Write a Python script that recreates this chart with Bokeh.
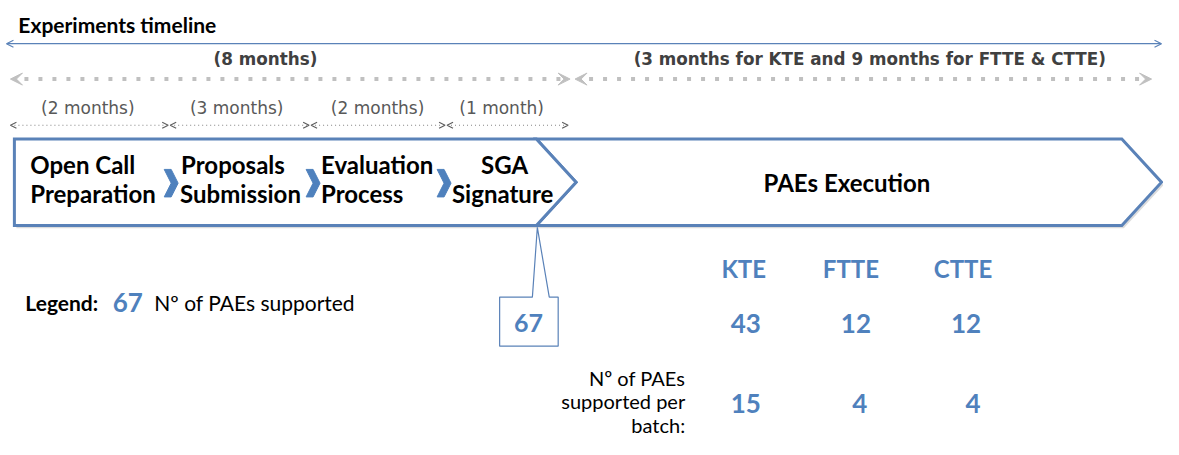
from bokeh.plotting import figure
from bokeh.models import Range1d, Arrow, VeeHead, OpenHead
from bokeh.core.properties import value
from bokeh.embed import file_html
from bokeh.resources import INLINE

# ---------------- data ----------------
title = "Experiments timeline"
phase_labels = ["(8 months)", "(3 months for KTE and 9 months for FTTE & CTTE)"]
duration_labels = ["(2 months)", "(3 months)", "(2 months)", "(1 month)"]
step_line1 = ["Open Call", "Proposals", "Evaluation", "SGA"]
step_line2 = ["Preparation", "Submission", "Process", "Signature"]
execution_label = "PAEs Execution"
total_supported = 67
teams = ["KTE", "FTTE", "CTTE"]
supported = [43, 12, 12]
per_batch = [15, 4, 4]
legend_text = "Nº of PAEs supported"
batch_label = ["Nº of PAEs", "supported per", "batch:"]

# ---------------- layout (positions / styles) ----------------
BLUE = "#4f81bd"
EDGE = "#5a82b8"
DARK = "#404040"
GRAY = "#595959"
LIGHT = "#c0c0c0"
F = "Lato"
ARIAL = "DejaVu Sans"

phase_bounds = [(10, 574), (579, 1160)]
phase_label_x = [267, 876]
dur_bounds = [(10, 169), (171, 311), (313, 448), (450, 572)]
dur_label_x = [88, 238, 380, 505]
step_x1 = [30, 182, 323, 508]
step_x2 = [30, 181, 323, 455]
step_align1 = ["left", "left", "left", "center"]
step_x_chev = [170, 313, 445]
team_x = [749, 857, 970]
val_x = [751, 862, 973]
batch_x = [751, 866, 980]

p = figure(width=1163, height=439, x_range=Range1d(0, 1172), y_range=Range1d(447, 0),
           output_backend="svg", toolbar_location=None, min_border=0,
           x_axis_type=None, y_axis_type=None)
p.grid.visible = False
p.outline_line_color = None
p.background_fill_color = "white"


def txt(x, y, s, size, color, bold=False, align="left", font=F):
    p.text(x=[x], y=[y], text=[s], text_font=value(font), text_font_size=size,
           text_color=color, text_font_style="bold" if bold else "normal",
           text_align=align, text_baseline="middle")


# title
txt(18, 24, title, "21px", "black", bold=True)

# top blue double arrow
p.add_layout(Arrow(x_start=6, y_start=44, x_end=1170, y_end=44, line_color=EDGE, line_width=1.2,
                   start=OpenHead(size=7, line_color=EDGE, line_width=1.2),
                   end=OpenHead(size=7, line_color=EDGE, line_width=1.2)))

# phase labels and dotted arrows
for (a, b), lx, lab in zip(phase_bounds, phase_label_x, phase_labels):
    txt(lx, 60, lab, "16.8px", DARK, bold=True, align="center", font=ARIAL)
    p.add_layout(Arrow(x_start=a, y_start=80, x_end=b, y_end=80, line_color=LIGHT, line_width=4,
                       line_dash="4 10",
                       start=VeeHead(size=12, fill_color=LIGHT, line_color=LIGHT),
                       end=VeeHead(size=12, fill_color=LIGHT, line_color=LIGHT)))

# duration labels and small dotted arrows
for (a, b), lx, lab in zip(dur_bounds, dur_label_x, duration_labels):
    txt(lx, 109, lab, "17px", GRAY, align="center", font=ARIAL)
    p.add_layout(Arrow(x_start=a, y_start=127, x_end=b, y_end=127, line_color="#808080", line_width=1.2,
                       line_dash="1 3",
                       start=OpenHead(size=6, line_color="#606060", line_width=1.2),
                       end=OpenHead(size=6, line_color="#606060", line_width=1.2)))

# chevron shapes (shadow + body)
left_x = [14, 540, 580, 540, 14]
left_y = [141, 141, 185, 229, 229]
right_x = [540, 1130, 1170, 1130, 540, 580]
right_y = [141, 141, 185, 229, 229, 185]
for xs, ys in [(right_x, right_y), (left_x, left_y)]:
    p.patch([x + 2 for x in xs], [y + 3 for y in ys], fill_color="#dcdcdc", line_color=None)
p.patch(right_x, right_y, fill_color="white", line_color=EDGE, line_width=3, line_join="miter")
p.patch(left_x, left_y, fill_color="white", line_color=EDGE, line_width=3, line_join="miter")

# step texts
for x1, x2, al, l1, l2 in zip(step_x1, step_x2, step_align1, step_line1, step_line2):
    txt(x1, 167, l1, "24px", "black", bold=True, align=al)
    txt(x2, 197, l2, "24px", "black", bold=True, align="left")

# small blue chevrons between steps
for cx in step_x_chev:
    p.patch([cx - 5, cx + 2, cx + 9, cx + 2, cx - 5, cx + 2],
            [172, 172, 186, 200, 200, 186], fill_color=BLUE, line_color=BLUE, line_width=1)

txt(853, 185, execution_label, "24px", "black", bold=True, align="center")

# callout
p.patch([536, 541, 553, 562, 562, 503, 503, 536],
        [302, 231, 302, 302, 352, 352, 302, 302],
        fill_color="white", line_color=EDGE, line_width=1.2)
txt(532, 328, str(total_supported), "25px", BLUE, bold=True, align="center")

# legend
txt(25, 308, "Legend:", "21px", "black", bold=True)
txt(113, 308, str(total_supported), "26px", BLUE, bold=True)
txt(155, 308, legend_text, "21px", "black")

# team table
for tx, t in zip(team_x, teams):
    txt(tx, 273, t, "24px", BLUE, bold=True, align="center")
for vx, v in zip(val_x, supported):
    txt(vx, 329, str(v), "26px", BLUE, bold=True, align="center")
for bx, v in zip(batch_x, per_batch):
    txt(bx, 410, str(v), "26px", BLUE, bold=True, align="center")
for i, line in enumerate(batch_label):
    txt(690, 384 + i * 24, line, "20px", "black", align="right")

open("out.html", "w").write(file_html(p, INLINE))
